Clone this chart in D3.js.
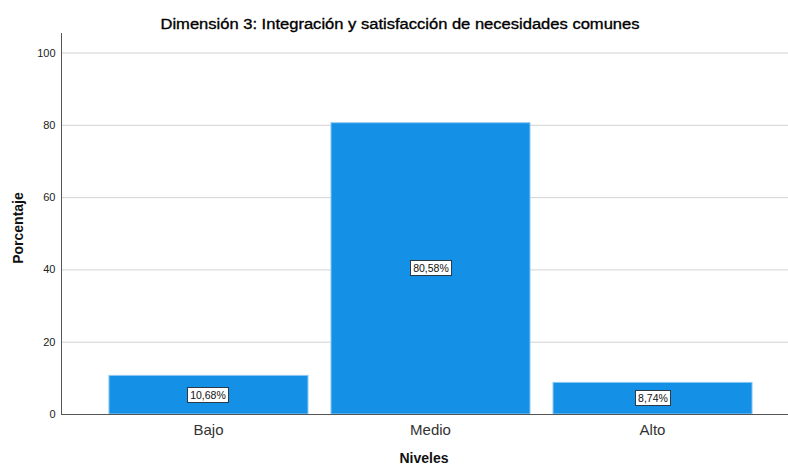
<!DOCTYPE html>
<html>
<head>
<meta charset="utf-8">
<script src="https://cdn.jsdelivr.net/npm/d3@7"></script>
<style>
  body { margin: 0; background: #fff; }
  svg { font-family: "Liberation Sans", Arial, sans-serif; display: block; }
</style>
</head>
<body>
<div id="container"></div>
<script>
var niveles = ["Bajo", "Medio", "Alto"];
var porcentajes = [10.68, 80.58, 8.74];
var etiquetas = ["10,68%", "80,58%", "8,74%"];
var yTicks = [0, 20, 40, 60, 80, 100];

var width = 788, height = 466;
var svg = d3.select("#container").append("svg")
  .attr("width", width)
  .attr("height", height);

var x = d3.scaleBand()
  .domain(niveles)
  .range([61, 800])
  .paddingInner(0.1036)
  .paddingOuter(0.216);

var y = d3.scaleLinear()
  .domain([0, 105.4])
  .range([414, 33]);

// grid lines
svg.append("g")
  .selectAll("line")
  .data(yTicks.filter(function(d) { return d > 0; }))
  .enter()
  .append("line")
  .attr("x1", 61).attr("x2", width)
  .attr("y1", function(d) { return y(d) + 0.5; })
  .attr("y2", function(d) { return y(d) + 0.5; })
  .attr("stroke", "#d2d2d2")
  .attr("stroke-width", 1);

// bars
svg.append("g")
  .selectAll("rect")
  .data(porcentajes)
  .enter()
  .append("rect")
  .attr("x", function(d, i) { return x(niveles[i]); })
  .attr("y", function(d) { return y(d); })
  .attr("width", x.bandwidth())
  .attr("height", function(d) { return y(0) - y(d); })
  .attr("fill", "#1490e6")
  .attr("stroke", "#8cc8f2")
  .attr("stroke-width", 1);

// y axis
var yAxis = d3.axisLeft(y).tickValues(yTicks).tickSize(0).tickPadding(6);
var gy = svg.append("g").attr("transform", "translate(61.5,0)").call(yAxis);
gy.select(".domain").remove();
gy.selectAll("text").style("font-size", "11px").attr("fill", "#222");
svg.append("line")
  .attr("x1", 61.5).attr("x2", 61.5)
  .attr("y1", 33).attr("y2", 414.5)
  .attr("stroke", "#555").attr("stroke-width", 1);

// x axis
var xAxis = d3.axisBottom(x).tickSize(0).tickPadding(10);
var gx = svg.append("g").attr("transform", "translate(0,414.5)").call(xAxis);
gx.select(".domain").remove();
gx.selectAll("text").style("font-size", "15px").attr("fill", "#333");
svg.append("line")
  .attr("x1", 61).attr("x2", width)
  .attr("y1", 414.5).attr("y2", 414.5)
  .attr("stroke", "#555").attr("stroke-width", 1);

// value labels
var lab = svg.append("g")
  .selectAll("g")
  .data(porcentajes)
  .enter()
  .append("g")
  .attr("transform", function(d, i) {
    return "translate(" + Math.round(x(niveles[i]) + x.bandwidth() / 2) + "," + Math.round(y(d / 2)) + ")";
  });
lab.append("text")
  .attr("text-anchor", "middle")
  .attr("dy", "0.36em")
  .style("font-size", "10.5px")
  .attr("fill", "#111")
  .text(function(d, i) { return etiquetas[i]; });
lab.each(function() {
  var g = d3.select(this);
  var bb = g.select("text").node().getBBox();
  g.insert("rect", "text")
    .attr("x", Math.round(bb.x) - 2.5)
    .attr("y", -7.5)
    .attr("width", Math.round(bb.width) + 5)
    .attr("height", 15)
    .attr("fill", "#fff")
    .attr("stroke", "#2b3a48")
    .attr("stroke-width", 1);
});

// title
svg.append("text")
  .attr("x", 400).attr("y", 29)
  .attr("text-anchor", "middle")
  .attr("textLength", 479)
  .attr("lengthAdjust", "spacingAndGlyphs")
  .style("font-size", "15.5px")
  .attr("fill", "#000")
  .attr("stroke", "#000")
  .attr("stroke-width", 0.35)
  .text("Dimensión 3: Integración y satisfacción de necesidades comunes");

// axis titles
svg.append("text")
  .attr("transform", "translate(23,228) rotate(-90)")
  .attr("text-anchor", "middle")
  .style("font-size", "14px")
  .style("font-weight", "bold")
  .attr("fill", "#111")
  .text("Porcentaje");

svg.append("text")
  .attr("x", 424).attr("y", 463)
  .attr("text-anchor", "middle")
  .style("font-size", "14px")
  .style("font-weight", "bold")
  .attr("fill", "#111")
  .text("Niveles");
</script>
</body>
</html>
